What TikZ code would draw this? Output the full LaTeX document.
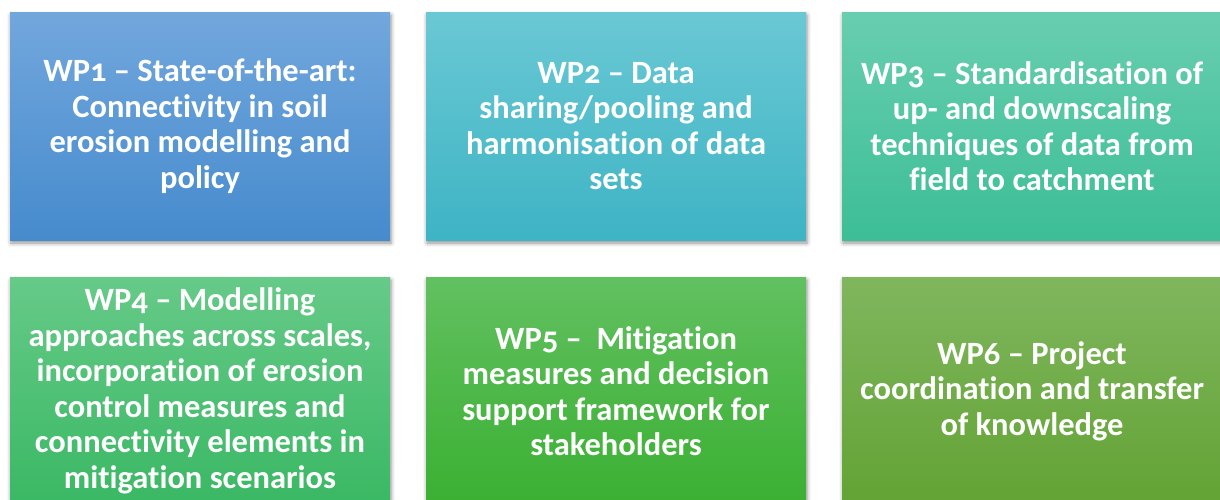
\documentclass[tikz,border=0pt]{standalone}
\usepackage{fontspec}
\setmainfont{Carlito}[Numbers=OldStyle,Ligatures=CommonOff]
\usetikzlibrary{shadows.blur}
% gradient colours of the six work-package boxes
\definecolor{wpAtop}{RGB}{114,167,221}
\definecolor{wpAbot}{RGB}{70,139,205}
\definecolor{wpBtop}{RGB}{106,200,212}
\definecolor{wpBbot}{RGB}{62,180,196}
\definecolor{wpCtop}{RGB}{104,206,175}
\definecolor{wpCbot}{RGB}{60,190,150}
\definecolor{wpDtop}{RGB}{102,202,136}
\definecolor{wpDbot}{RGB}{58,184,100}
\definecolor{wpEtop}{RGB}{98,192,96}
\definecolor{wpEbot}{RGB}{58,176,50}
\definecolor{wpFtop}{RGB}{128,182,94}
\definecolor{wpFbot}{RGB}{98,163,52}
\begin{document}
\begin{tikzpicture}[x=1pt,y=-1pt,
  wpbox/.style={rectangle, minimum width=380pt, minimum height=228pt,
    inner sep=0pt, text=white, align=center,
    font=\fontsize{32.5}{35.5}\selectfont\bfseries,
    blur shadow={shadow xshift=1pt, shadow yshift=-3pt,
      shadow blur radius=4pt, shadow opacity=45}},
]
\useasboundingbox (0,0) rectangle (1220,499);
% first row
\node[wpbox, top color=wpAtop, bottom color=wpAbot] (wp1) at (200,126)
  {WP1 – State-of-the-art:\\Connectivity in soil\\erosion modelling and\\policy};
\node[wpbox, top color=wpBtop, bottom color=wpBbot] (wp2) at (616,126)
  {WP2 – Data\\sharing/pooling and\\harmonisation of data\\sets};
\node[wpbox, top color=wpCtop, bottom color=wpCbot] (wp3) at (1032,126)
  {WP3 – Standardisation of\\up- and downscaling\\techniques of data from\\field to catchment};
% second row
\node[wpbox, top color=wpDtop, bottom color=wpDbot] (wp4) at (200,391)
  {WP4 – Modelling\\approaches across scales,\\incorporation of erosion\\control measures and\\connectivity elements in\\mitigation scenarios};
\node[wpbox, top color=wpEtop, bottom color=wpEbot] (wp5) at (616,391)
  {WP5 –\ \ Mitigation\\measures and decision\\support framework for\\stakeholders};
\node[wpbox, top color=wpFtop, bottom color=wpFbot] (wp6) at (1032,391)
  {WP6 – Project\\coordination and transfer\\of knowledge};
\end{tikzpicture}
\end{document}
